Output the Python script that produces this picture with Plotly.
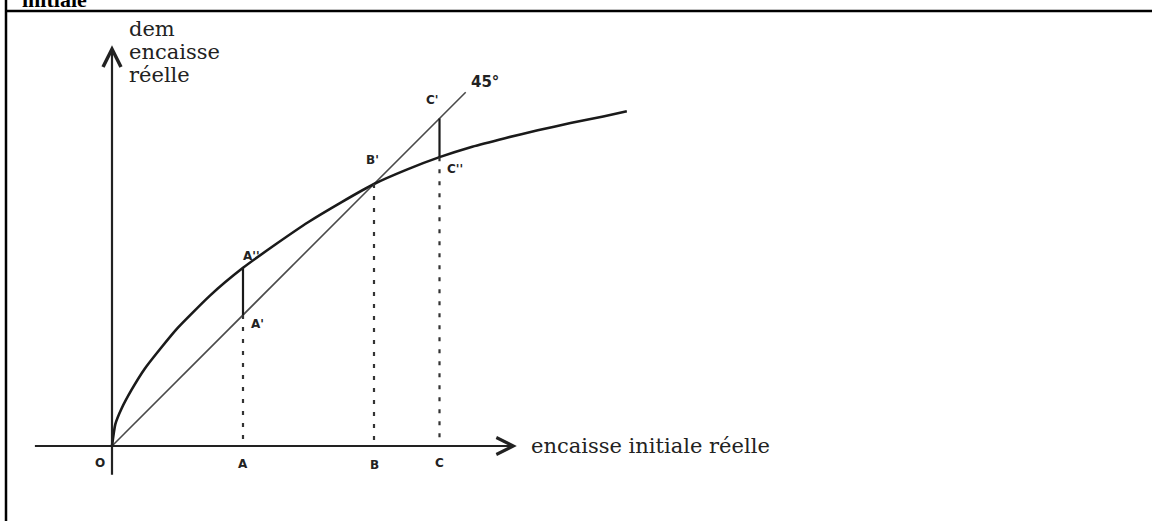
import plotly.graph_objects as go

# ---- data (units; O = origin) ----
curve_x = [0, 0.05, 0.15, 0.3, 0.5, 0.75, 1.0, 1.5, 2.0, 2.5, 3.0, 3.5, 4.0, 4.5, 5.0, 5.5, 6.0, 6.5, 7.0, 7.5, 7.86]
curve_y = [0, 0.33, 0.58, 0.86, 1.18, 1.50, 1.80, 2.30, 2.72, 3.08, 3.42, 3.72, 4.00, 4.22, 4.41, 4.57, 4.70, 4.82, 4.93, 5.03, 5.11]
line45_x = [0, 5.4]
points = {"A": 2.0, "B": 4.0, "C": 5.0}
curve_at = {"A": 2.72, "B": 4.00, "C": 4.41}
x_axis_ext = [-1.2, 6.18]
y_axis_ext = [-0.46, 6.12]
x_label = "encaisse initiale réelle"
y_label_lines = ["dem", "encaisse", "réelle"]
top_text = "initiale"

# ---- layout mapping: 65.5 px per unit, origin at pixel (112, 446) ----
W, H = 1152, 521
S = 65.5
ox, oy = 112, 446
xr = [-ox / S, (W - ox) / S]
yr = [-(H - oy) / S, oy / S]

ink = "#1a1a1a"
fig = go.Figure()

# 45 degree line
fig.add_trace(go.Scatter(x=line45_x, y=line45_x, mode="lines",
                         line=dict(color="#4a4a4a", width=1.6), hoverinfo="skip"))
# curve
fig.add_trace(go.Scatter(x=curve_x, y=curve_y, mode="lines",
                         line=dict(color=ink, width=2.6, shape="spline", smoothing=0.5),
                         hoverinfo="skip"))
# solid vertical segments between curve and 45 line (A and C)
for k in ["A", "C"]:
    xv = points[k]
    fig.add_trace(go.Scatter(x=[xv, xv], y=[curve_at[k], xv], mode="lines",
                             line=dict(color=ink, width=2.2), hoverinfo="skip"))
# dotted drop lines to the axis
for k in ["A", "B", "C"]:
    xv = points[k]
    top = min(curve_at[k], xv)
    fig.add_trace(go.Scatter(x=[xv, xv], y=[top, 0], mode="lines",
                             line=dict(color="#333", width=2.2, dash="4px,8px"), hoverinfo="skip"))

# axes with arrows
fig.add_annotation(x=x_axis_ext[1], y=0, ax=x_axis_ext[0], ay=0, xref="x", yref="y",
                   axref="x", ayref="y", text="", showarrow=True, arrowhead=5,
                   arrowsize=1.5, arrowwidth=2.2, arrowcolor="#222")
fig.add_annotation(x=0, y=y_axis_ext[1], ax=0, ay=y_axis_ext[0], xref="x", yref="y",
                   axref="x", ayref="y", text="", showarrow=True, arrowhead=5,
                   arrowsize=1.6, arrowwidth=2.2, arrowcolor="#222")

serif = dict(family="DejaVu Serif", size=21, color="#222")
fig.add_annotation(x=x_axis_ext[1], y=0, xref="x", yref="y", text=x_label, showarrow=False,
                   xanchor="left", yanchor="middle", xshift=12, font=serif)
for i, t in enumerate(y_label_lines):
    fig.add_annotation(x=0, y=y_axis_ext[1], xref="x", yref="y", text=t, showarrow=False,
                       xanchor="left", yanchor="middle", xshift=15, yshift=16 - 23 * i, font=serif)

# hand-written point labels
hand = dict(family="DejaVu Sans", size=12, color="#222")
def lab(x, y, t, dx, dy, size=12):
    fig.add_annotation(x=x, y=y, xref="x", yref="y", text="<b>" + t + "</b>", showarrow=False,
                       xshift=dx, yshift=dy, font=dict(hand, size=size))
lab(0, 0, "O", -12, -17)
lab(points["A"], 0, "A", 0, -18)
lab(points["B"], 0, "B", 0, -19)
lab(points["C"], 0, "C", 0, -17)
lab(points["A"], curve_at["A"], "A''", 8, 12)
lab(points["A"], points["A"], "A'", 14, -9)
lab(points["B"], curve_at["B"], "B'", -2, 24)
lab(points["C"], points["C"], "C'", -8, 19)
lab(points["C"], curve_at["C"], "C''", 15, -12)
lab(line45_x[1], line45_x[1], "45°", 19, 10, size=15)

# frame of the page (top rule + left rule) and cut-off heading
fig.add_shape(type="line", xref="paper", yref="paper", x0=5 / W, x1=1, y0=1 - 11 / H, y1=1 - 11 / H,
              line=dict(color="black", width=2.5))
fig.add_shape(type="line", xref="paper", yref="paper", x0=6 / W, x1=6 / W, y0=0, y1=1,
              line=dict(color="black", width=2.5))
fig.add_annotation(x=20 / W, y=1 - 6 / H, xref="paper", yref="paper", text="<b>" + top_text + "</b>",
                   showarrow=False, xanchor="left", yanchor="bottom", yshift=-8,
                   font=dict(family="Liberation Serif", size=22, color="black"))

fig.update_layout(width=W, height=H, margin=dict(l=0, r=0, t=0, b=0),
                  paper_bgcolor="white", plot_bgcolor="white", showlegend=False,
                  xaxis=dict(range=xr, visible=False, fixedrange=True),
                  yaxis=dict(range=yr, visible=False, fixedrange=True))
fig.write_html("out.html", config={"displayModeBar": False},
               post_script="document.body.style.margin='0';document.body.style.overflow='hidden';")
